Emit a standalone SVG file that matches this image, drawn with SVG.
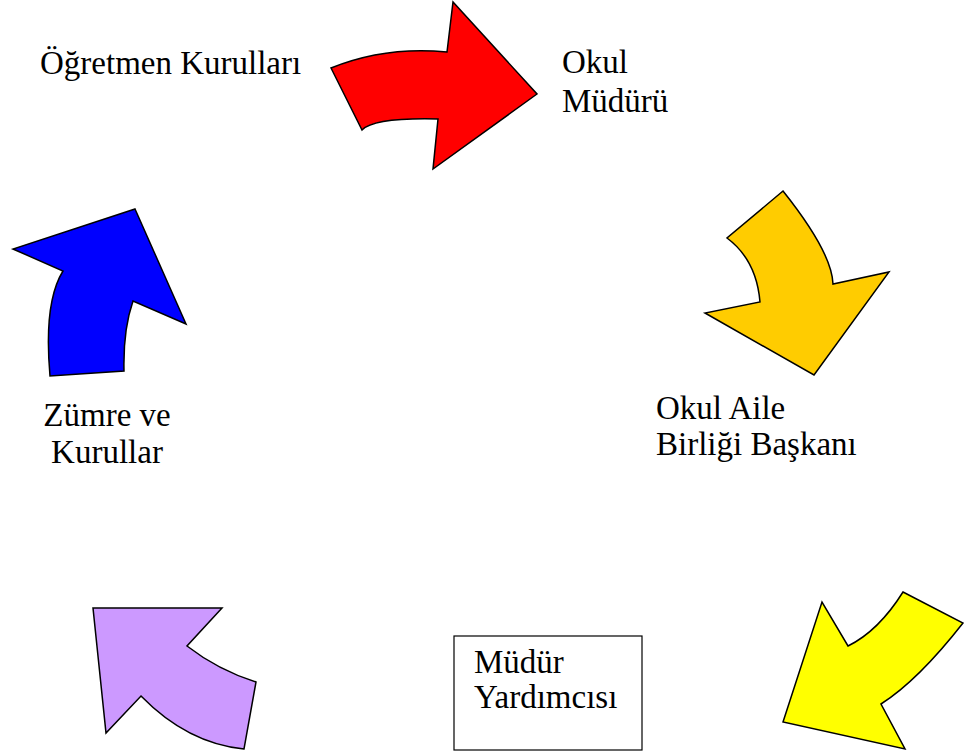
<svg xmlns="http://www.w3.org/2000/svg" width="964" height="754" viewBox="0 0 964 754">
<style>
.a{stroke:#000;stroke-width:1.5;stroke-linejoin:miter}
.t{font-family:"Liberation Serif","DejaVu Serif",serif;font-size:33px;fill:#000}
</style>
<rect width="964" height="754" fill="#fff"/>
<g id="connectors">
<path id="arrow-red" class="a" fill="#ff0000" d="M331,68 Q385,46 447,52 L453,2 L537,94 L433,169 L438,119 Q374,117.5 362,130 Z"/>
<path id="arrow-orange" class="a" fill="#ffcc00" d="M783,191 L727,238 Q756.5,260 760,302 L705,313 L814,375 L889,272 L833,284 Q832,252.5 783,191 Z"/>
<path id="arrow-yellow" class="a" fill="#ffff00" d="M903,592 L963,623 Q918,680.5 881,704 L905,749 L783,722 L822,602 L848,646 Q878.5,631 903,592 Z"/>
<path id="arrow-purple" class="a" fill="#cc99ff" d="M93,608 L222,608 L187,646 Q218,670 256,682 L244,749 Q187.5,743.5 141,696 L106,733 Z"/>
<path id="arrow-blue" class="a" fill="#0000ff" d="M135,209 L186,324 L133,301 Q123,330 124,371 L50,376 Q43.5,302.5 63,271 L13,249 Z"/>
</g>
<g id="node-ogretmen"><text class="t" x="40" y="74">Öğretmen Kurulları</text></g>
<g id="node-mudur"><text class="t" x="562" y="73">Okul</text><text class="t" x="562" y="112">Müdürü</text></g>
<g id="node-aile"><text class="t" x="656" y="419">Okul Aile</text><text class="t" x="656" y="455">Birliği Başkanı</text></g>
<g id="node-zumre"><text class="t" x="107" y="426" text-anchor="middle">Zümre ve</text><text class="t" x="107" y="463" text-anchor="middle">Kurullar</text></g>
<g id="node-yardimci"><rect x="454" y="636" width="188" height="114" fill="#fff" stroke="#000" stroke-width="1.2"/><text class="t" x="474" y="673">Müdür</text><text class="t" x="474" y="708">Yardımcısı</text></g>
</svg>
